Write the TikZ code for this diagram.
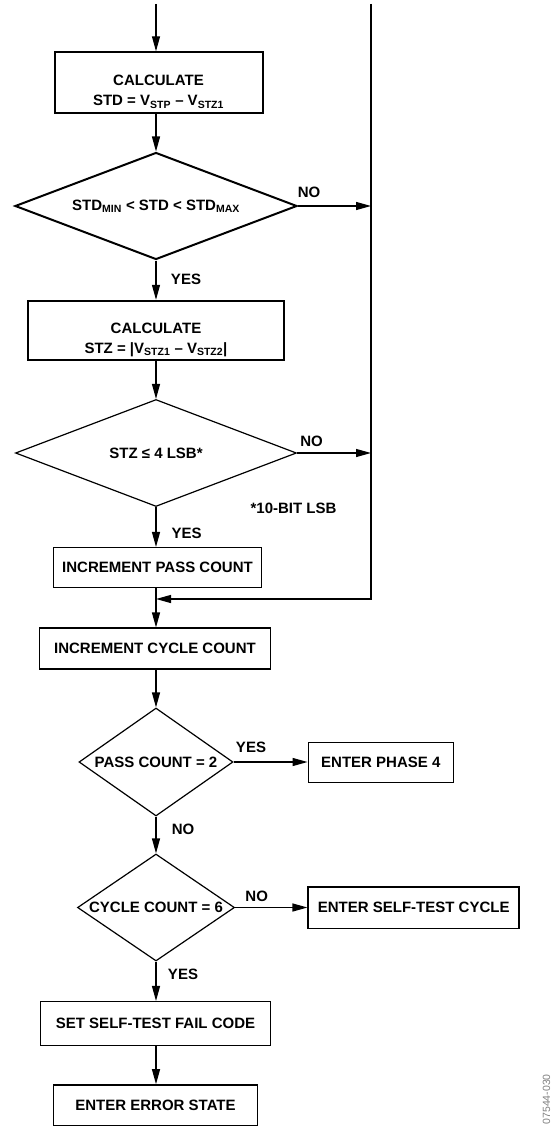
\documentclass[tikz,border=0pt]{standalone}
\usepackage{fontspec}
\setmainfont{Liberation Sans}
\usetikzlibrary{shapes.geometric,arrows.meta}

\begin{document}
\begin{tikzpicture}[x=1pt,y=-1pt,>={Triangle[length=15pt,width=8pt]},
    font=\fontsize{15}{20}\selectfont\bfseries,
    box/.style={draw,line width=1.5pt,inner sep=0pt},
    thickbox/.style={draw,line width=2pt,inner sep=0pt,align=center,text height=50pt,text depth=4pt},
    dia/.style={draw,diamond,line width=1.2pt,inner sep=0pt},
    lbl/.style={inner sep=0pt},
    flow/.style={->,line width=1.2pt}]
  \useasboundingbox (0,0) rectangle (552,1126);

  \coordinate (intop) at (156,4); %入口
  \coordinate (bustop) at (371,4); %右の戻り線
  \coordinate (busbot) at (371,599);
  \coordinate (merge) at (156,599);

  \node[thickbox,minimum width=208pt,minimum height=61pt] (calcstd) at (158.5,82.8) {CALCULATE\\STD = V\textsubscript{STP} – V\textsubscript{STZ1}};
  \node[dia,line width=2pt,minimum width=282pt,minimum height=107pt] (stdchk) at (156,206) {\makebox[0pt]{STD\textsubscript{MIN} < STD < STD\textsubscript{MAX}}};
  \node[thickbox,minimum width=256pt,minimum height=59pt] (calcstz) at (156,330.3) {CALCULATE\\STZ = |V\textsubscript{STZ1} – V\textsubscript{STZ2}|};
  \node[dia,minimum width=281pt,minimum height=107pt] (stzchk) at (156,453) {\makebox[0pt]{STZ ≤ 4 LSB*}};
  \node[box,minimum width=208pt,minimum height=40pt] (incpass) at (157.5,567.7) {INCREMENT PASS COUNT};
  \node[box,minimum width=231pt,minimum height=41pt] (inccycle) at (155,648.7) {INCREMENT CYCLE COUNT};
  \node[dia,minimum width=154pt,minimum height=108pt] (passchk) at (156,762) {\makebox[0pt]{PASS COUNT = 2}};
  \node[box,minimum width=145pt,minimum height=40pt] (phase4) at (380.8,762.5) {ENTER PHASE 4};
  \node[dia,minimum width=157pt,minimum height=107pt] (cyclechk) at (156,907.5) {\makebox[0pt]{CYCLE COUNT = 6}};
  \node[box,minimum width=211pt,minimum height=41.5pt] (selftest) at (413.7,907.5) {ENTER SELF-TEST CYCLE};
  \node[box,minimum width=230pt,minimum height=43.6pt] (failcode) at (155.5,1023.5) {SET SELF-TEST FAIL CODE};
  \node[box,minimum width=204pt,minimum height=40.7pt] (errstate) at (155.5,1105.3) {ENTER ERROR STATE};

  \draw[flow] (intop) -- (intop |- calcstd.north);
  \draw[flow] (stdchk.north |- calcstd.south) -- (stdchk.north);
  \draw[flow] (stdchk.east) -- (busbot |- stdchk.east);
  \draw[flow] (stdchk.south) -- (calcstz.north);
  \draw[flow] (calcstz.south) -- (stzchk.north);
  \draw[flow] (stzchk.east) -- (busbot |- stzchk.east);
  \draw[flow] (stzchk.south) -- (stzchk.south |- incpass.north);
  \draw[flow] (bustop) -- (busbot) -- (merge);
  \draw[flow] (merge |- incpass.south) -- (merge |- inccycle.north);
  \draw[flow] (merge |- inccycle.south) -- (passchk.north);
  \draw[flow] (passchk.east) -- (passchk.east -| phase4.west);
  \draw[flow] (passchk.south) -- (cyclechk.north);
  \draw[flow] (cyclechk.east) -- (cyclechk.east -| selftest.west);
  \draw[flow] (cyclechk.south) -- (cyclechk.south |- failcode.north);
  \draw[flow] (cyclechk.south |- failcode.south) -- (cyclechk.south |- errstate.north);

  \node[lbl] (no1) at (309,192.5) {NO}; %分岐ラベル
  \node[lbl] (yes1) at (186,279.5) {YES};
  \node[lbl] (no2) at (311.5,441) {NO};
  \node[lbl] (lsbnote) at (293.5,508.5) {*10-BIT LSB};
  \node[lbl] (yes2) at (186.7,533) {YES};
  \node[lbl] (yes3) at (251,747.5) {YES};
  \node[lbl] (no3) at (183,829.5) {NO};
  \node[lbl] (no4) at (256.7,896.5) {NO};
  \node[lbl] (yes4) at (183,974) {YES};

  \node[rotate=90,anchor=east,inner sep=0pt,text=gray,font=\fontsize{10.5}{12}\selectfont\mdseries] (figid) at (546.5,1074) {07544-030};
\end{tikzpicture}
\end{document}
